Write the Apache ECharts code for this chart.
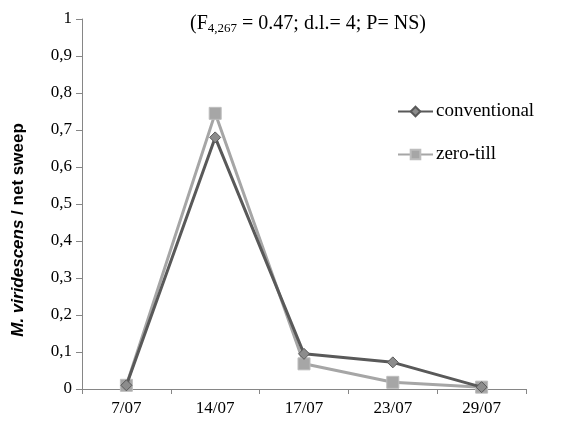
<!DOCTYPE html>
<html lang="en">
<head>
    <meta charset="UTF-8">
    <title>M. viridescens</title>
    <script src="https://cdn.jsdelivr.net/npm/echarts@6/dist/echarts.min.js"></script>
    <style>
        html, body { margin: 0; padding: 0; background: #fff; }
        #main { width: 567px; height: 423px; }
    </style>
</head>
<body>
<div id="main"></div>
<script>
    // dates of sampling
    var dates = ['7/07', '14/07', '17/07', '23/07', '29/07'];
    // mean catches per net sweep
    var conventional = [0.01, 0.68, 0.095, 0.072, 0.005];
    var zeroTill = [0.01, 0.745, 0.068, 0.018, 0.005];
    var yTicks = [0, 0.1, 0.2, 0.3, 0.4, 0.5, 0.6, 0.7, 0.8, 0.9, 1];

    var chart = echarts.init(document.getElementById('main'));
    var serif = 'Liberation Serif';

    var option = {
        animation: false,
        title: {
            text: '(F{sub|4,267} = 0.47; d.l.= 4; P= NS)',
            left: 303,
            top: 8,
            textAlign: 'center',
            textStyle: {
                fontFamily: serif, fontSize: 20, fontWeight: 'normal', color: '#000',
                rich: {
                    sub: { fontFamily: serif, fontSize: 13, verticalAlign: 'bottom', padding: [9, 0, 0, 0], color: '#000' }
                }
            }
        },
        legend: {
            orient: 'vertical',
            left: 392,
            top: 97,
            itemGap: 24,
            itemWidth: 35,
            itemHeight: 12,
            textStyle: { fontFamily: serif, fontSize: 19, color: '#000', padding: [0, 0, 0, -2] },
            data: ['conventional', 'zero-till']
        },
        grid: { left: 82, right: 41, top: 19, bottom: 34, outerBoundsMode: 'none', containLabel: false },
        xAxis: {
            type: 'category',
            data: dates,
            boundaryGap: true,
            axisLine: { lineStyle: { color: '#868686' } },
            axisTick: { show: true, length: 5, lineStyle: { color: '#868686' } },
            axisLabel: { fontFamily: serif, fontSize: 17, color: '#000', margin: 11 }
        },
        yAxis: {
            type: 'value',
            min: 0, max: 1, interval: 0.1,
            name: '{it|M. viridescens} / net sweep',
            nameLocation: 'middle',
            nameGap: 55,
            nameRotate: 90,
            nameTextStyle: {
                fontFamily: 'Liberation Sans', fontSize: 17, fontWeight: 'bold', color: '#000',
                padding: [0, 52, 0, 0],
                rich: { it: { fontFamily: 'Liberation Sans', fontSize: 17, fontWeight: 'bold', fontStyle: 'italic', color: '#000' } }
            },
            axisLine: { show: true, lineStyle: { color: '#868686' } },
            axisTick: { show: true, length: 6, lineStyle: { color: '#868686' } },
            splitLine: { show: false },
            axisLabel: {
                fontFamily: serif, fontSize: 17, color: '#000', margin: 10,
                formatter: function (v) {
                    var t = yTicks.find(function (x) { return Math.abs(x - v) < 1e-6; });
                    return String(Math.round((t === undefined ? v : t) * 10) / 10).replace('.', ',');
                }
            }
        },
        series: [
            {
                name: 'conventional',
                type: 'line',
                data: conventional,
                symbol: 'diamond',
                symbolSize: 11,
                lineStyle: { color: '#595959', width: 3 },
                itemStyle: { color: '#8c8c8c', borderColor: '#595959', borderWidth: 1 },
                z: 3
            },
            {
                name: 'zero-till',
                type: 'line',
                data: zeroTill,
                symbol: 'rect',
                symbolSize: 12,
                lineStyle: { color: '#a6a6a6', width: 3 },
                itemStyle: { color: '#a6a6a6', borderColor: '#bdbdbd', borderWidth: 1 },
                z: 2
            }
        ]
    };
    chart.setOption(option);
</script>
</body>
</html>
